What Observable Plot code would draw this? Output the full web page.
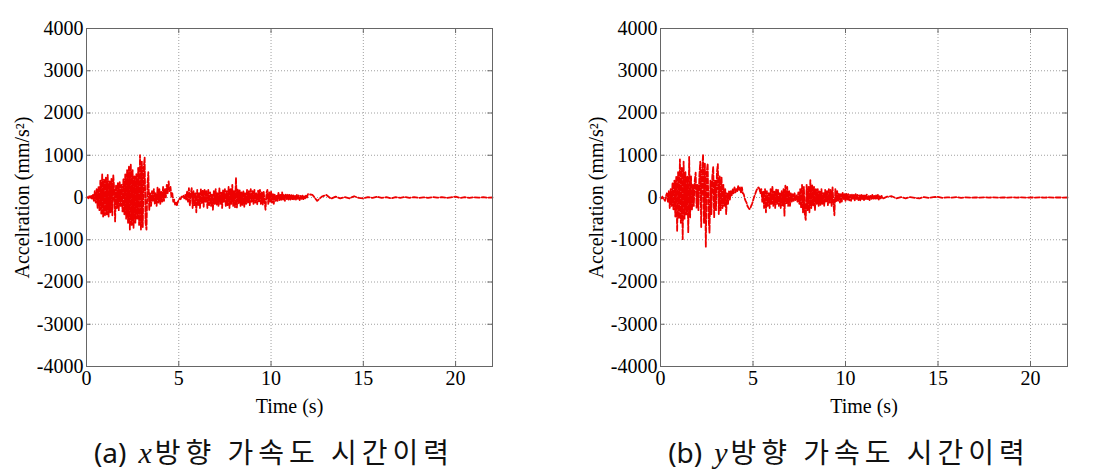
<!DOCTYPE html>
<html>
<head>
<meta charset="utf-8">
<script src="https://cdn.jsdelivr.net/npm/d3@7"></script>
<script src="https://cdn.jsdelivr.net/npm/@observablehq/plot@0.6"></script>
<style>
  html, body { margin: 0; padding: 0; background: #fff; }
  #page { position: relative; width: 1120px; height: 471px; overflow: hidden; background: #fff; }
  .panel { position: absolute; top: 0; }
  .cap { position: absolute; top: 436px; height: 30px; line-height: 30px; text-align: center;
         font-family: "Noto Sans CJK KR", "Noto Sans", sans-serif; font-size: 28px; font-weight: 400;
         color: #111; letter-spacing: 5px; white-space: nowrap; }
  .cap .lbl { font-family: "Noto Sans", "DejaVu Sans", sans-serif; letter-spacing: 0; margin-right: 6px; }
  .cap i { font-family: "Liberation Serif", serif; font-style: italic; font-size: 30px; letter-spacing: 0; margin: 0 3px 0 6px; }
</style>
</head>
<body>
<div id="page">
  <div id="pa" class="panel" style="left:0"></div>
  <div id="pb" class="panel" style="left:560px"></div>
  <div class="cap" style="left:0; width:548px"><span class="lbl">(a)</span><i>x</i>방향 가속도 시간이력</div>
  <div class="cap" style="left:560px; width:578px"><span class="lbl">(b)</span><i>y</i>방향 가속도 시간이력</div>
</div>
<script>
// ---- data -------------------------------------------------------------
const xTicks = [0, 5, 10, 15, 20];
const yTicks = [-4000, -3000, -2000, -1000, 0, 1000, 2000, 3000, 4000];
const xLabel = "Time (s)";
const yLabel = "Accelration (mm/s²)";

const fineStep = 0.05;   // s, samples from t = 0 to 11.95
const tailStart = 12;    // s
const tailStep = 0.25;   // s, samples from t = 12 to 22

// (a) x-direction acceleration, t = 0 ... 11.95 s
const accXFine = [
  0,10,-20,30,-10,40,-40,60,-80,150,-120,200,-250,250,-300,400,-380,560,-450,420,
  -420,480,-400,535,-450,380,-350,450,-420,535,200,-567,300,-250,350,-300,380,-200,300,-330,
  450,-400,550,-500,650,-600,730,-760,790,-650,650,-720,500,-600,550,-500,700,-650,1000,-760,
  850,-700,700,945,-600,-760,300,600,-300,100,-200,150,-100,200,-150,100,-200,250,-120,200,
  -150,150,-100,250,-80,200,0,300,100,380,150,250,20,100,-100,-50,-170,-120,-180,-100,
  -60,-20,-40,20,0,40,-20,60,-50,150,-100,220,-200,100,220,-250,150,-200,100,-350,
  180,-200,120,-250,200,-150,180,-220,200,-100,150,-250,180,-180,120,-200,80,-290,150,-150,
  200,-180,100,-200,220,-150,130,-250,180,-100,200,-220,150,-180,250,-250,200,-150,300,-200,
  150,-230,470,-235,200,-150,180,-200,120,-180,150,-220,100,-150,180,-120,150,-180,200,-100,
  150,-150,180,-120,100,-160,160,-100,180,-150,120,-180,150,-100,-290,100,180,-150,120,-100,
  150,-120,100,-150,80,-100,60,-80,120,-60,80,-70,125,-50,60,-80,70,-40,80,-60,
  60,-50,70,-40,50,-60,40,-50,60,-30,50,-60,40,-30,50,-40,30,-20,60,0
];
// (a) x-direction acceleration, t = 12 ... 22 s
const accXTail = [
  80,60,-80,20,60,-30,20,-20,10,-20,30,-10,-20,10,-10,20,-10,10,-20,10,
  -10,15,-10,10,-10,5,-10,10,-5,10,-10,5,20,-10,10,-10,5,-5,10,-5,0
];

// (b) y-direction acceleration, t = 0 ... 11.95 s
const accYFine = [
  0,-20,20,-30,-50,-80,50,100,-100,150,-250,200,-200,350,-300,400,-450,500,-800,600,
  -500,900,-600,700,-985,850,-500,600,-400,500,-830,960,-470,500,-300,300,-200,400,590,-240,
  300,-300,500,850,-700,600,1020,-600,800,-1165,600,800,-500,-830,400,-400,500,725,-470,400,
  -300,600,790,-390,500,-300,470,-250,300,-200,200,-390,100,-150,150,-50,150,50,200,100,
  240,120,200,150,275,180,250,120,240,100,80,-20,-80,-120,-200,-240,-275,-260,-200,-150,
  -80,0,60,120,180,220,240,200,100,200,-100,150,-250,200,-350,150,-200,100,-250,200,
  -150,270,-200,150,-250,200,-150,180,-200,100,-250,150,-200,200,-430,280,-150,250,-200,150,
  -200,100,-100,80,-80,100,-60,50,-100,120,-150,200,-250,300,-350,250,-400,-530,300,-300,
  250,-350,410,-250,300,-200,250,-300,200,-150,200,-200,150,-180,200,-150,120,-200,180,-100,
  150,-180,200,-120,180,-200,240,-150,-420,200,-100,150,-80,100,-120,80,-100,120,-60,80,
  -80,100,-60,80,-70,60,-80,70,-50,60,-70,80,-40,60,-60,50,-70,60,-40,70,
  -60,50,-50,70,-40,50,-60,40,-30,60,-50,40,-40,50,-30,60,-50,30,-20,40
];
// (b) y-direction acceleration, t = 12 ... 22 s
const accYTail = [
  -30,20,30,-20,10,-20,10,-10,-20,10,-10,10,15,-10,5,-5,10,-10,5,-5,
  5,-5,5,-5,5,-5,5,-5,5,-5,5,-5,5,-5,5,-5,5,-5,5,-5,0
];

// ---- build tables --------------------------------------------------------
function series(fine, tail) {
  const rows = fine.map((a, i) => ({t: +(i * fineStep).toFixed(3), a}));
  tail.forEach((a, i) => rows.push({t: +(tailStart + i * tailStep).toFixed(3), a}));
  return rows;
}

function panel(rows, marginLeft, marginRight) {
  return Plot.plot({
    width: 560,
    height: 416,
    marginLeft, marginRight,
    marginTop: 28,
    marginBottom: 50,
    x: {domain: [0, 22]},
    y: {domain: [-4000, 4000]},
    style: {fontFamily: "'Liberation Serif', 'Times New Roman', serif", fontSize: "20px", color: "#000", background: "#fff", overflow: "visible"},
    marks: [
      Plot.gridX(xTicks.slice(1), {stroke: "#a0a0a0", strokeOpacity: 1, strokeDasharray: "1,2"}),
      Plot.gridY(yTicks.slice(1, -1), {stroke: "#a0a0a0", strokeOpacity: 1, strokeDasharray: "1,2"}),
      Plot.ruleX(xTicks.slice(1), {x: d => d, y1: -4000, y2: -3880, stroke: "#666"}),
      Plot.ruleX(xTicks.slice(1), {x: d => d, y1: 4000, y2: 3880, stroke: "#666"}),
      Plot.ruleY(yTicks.slice(1, -1), {y: d => d, x1: 0, x2: 0.25, stroke: "#666"}),
      Plot.ruleY(yTicks.slice(1, -1), {y: d => d, x1: 21.75, x2: 22, stroke: "#666"}),
      Plot.axisX(xTicks, {tickSize: 0, tickPadding: 4, fontSize: 20, label: xLabel, labelArrow: "none", labelAnchor: "center", labelOffset: 46, tickFormat: d => String(d)}),
      Plot.axisY(yTicks, {tickSize: 0, tickPadding: 3, fontSize: 20, label: yLabel, labelArrow: "none", labelAnchor: "center", labelOffset: 72, tickFormat: d => String(d)}),
      Plot.line(rows, {x: "t", y: "a", stroke: "#ee0000", strokeWidth: 1.8, strokeDasharray: "5,2"}),
      Plot.frame({stroke: "#666", strokeWidth: 1})
    ]
  });
}

document.getElementById("pa").append(panel(series(accXFine, accXTail), 86, 68));
document.getElementById("pb").append(panel(series(accYFine, accYTail), 100, 53));
</script>
</body>
</html>
